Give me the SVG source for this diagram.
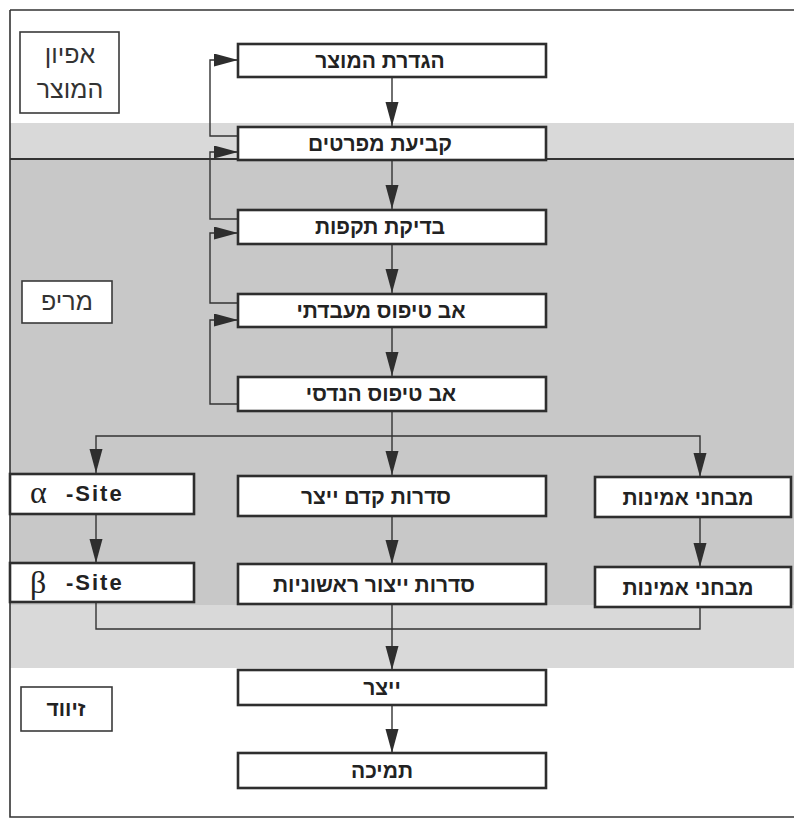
<svg xmlns="http://www.w3.org/2000/svg" width="794" height="821" viewBox="0 0 794 821">
<style>
.box{fill:#fff;stroke:#2e2e2e;stroke-width:2.6}
.lbl{fill:#fff;stroke:#3a3a3a;stroke-width:1.6}
.t{font-family:"Liberation Sans","DejaVu Sans",sans-serif;font-weight:bold;font-size:21px;fill:#222;text-anchor:middle}
.tl{font-family:"Liberation Sans","DejaVu Sans",sans-serif;font-size:25px;fill:#333;text-anchor:middle}
.c{fill:none;stroke:#333;stroke-width:1.4}
.g{font-family:"Liberation Serif",serif;font-size:32px;fill:#222}
.s{font-family:"Liberation Sans",sans-serif;font-weight:bold;font-size:22px;fill:#222;letter-spacing:2px}
</style>
<defs>
<marker id="ah" markerUnits="userSpaceOnUse" markerWidth="26" markerHeight="14" refX="24" refY="6.5" orient="auto">
<path d="M0,0 L24,6.5 L0,13 Z" fill="#2e2e2e"/>
</marker>
</defs>
<rect x="0" y="0" width="794" height="821" fill="#fff"/>
<g id="background">
<rect x="10" y="123" width="784" height="36" fill="#d9d9d9"/>
<rect x="10" y="159" width="784" height="446" fill="#c8c8c8"/>
<rect x="10" y="605" width="784" height="63" fill="#d9d9d9"/>
<path d="M10,10 H794 M10,10 V817 H794" fill="none" stroke="#333" stroke-width="1.6"/>
<path d="M10,159 H794" stroke="#333" stroke-width="1.8"/>
</g>
<g id="connectors">
<path class="c" d="M392,77 V126" marker-end="url(#ah)"/>
<path class="c" d="M392,160 V209" marker-end="url(#ah)"/>
<path class="c" d="M392,244 V293" marker-end="url(#ah)"/>
<path class="c" d="M392,327 V376" marker-end="url(#ah)"/>
<path class="c" d="M392,411 V475" marker-end="url(#ah)"/>
<path class="c" d="M392,516 V564" marker-end="url(#ah)"/>
<path class="c" d="M392,604 V670" marker-end="url(#ah)"/>
<path class="c" d="M392,705 V753" marker-end="url(#ah)"/>
<path class="c" d="M238,136 H210 V60 H238" marker-end="url(#ah)"/>
<path class="c" d="M238,219 H210 V152 H238" marker-end="url(#ah)"/>
<path class="c" d="M238,303 H210 V233 H238" marker-end="url(#ah)"/>
<path class="c" d="M238,404 H210 V320 H238" marker-end="url(#ah)"/>
<path class="c" d="M392,436 H96 V473" marker-end="url(#ah)"/>
<path class="c" d="M392,436 H700 V477" marker-end="url(#ah)"/>
<path class="c" d="M96,514 V563" marker-end="url(#ah)"/>
<path class="c" d="M700,517 V567" marker-end="url(#ah)"/>
<path class="c" d="M96,602 V629 H700 V607"/>
</g>
<g id="n-product-char">
<rect class="lbl" x="20" y="32" width="99" height="81"/>
<text class="tl" x="70" y="63">אפיון</text>
<text class="tl" x="70" y="98">המוצר</text>
</g>
<g id="n-rnd">
<rect class="lbl" x="22" y="281" width="90" height="42"/>
<text class="tl" x="67" y="310">מריפ</text>
</g>
<g id="n-packaging">
<rect class="lbl" x="21" y="687" width="91" height="44"/>
<text class="t" x="66" y="716">זיווד</text>
</g>
<g id="n-define">
<rect class="box" x="238" y="44" width="308" height="33"/>
<text class="t" x="380" y="68">הגדרת המוצר</text>
</g>
<g id="n-spec">
<rect class="box" x="238" y="127" width="308" height="33"/>
<text class="t" x="380" y="151">קביעת מפרטים</text>
</g>
<g id="n-feasibility">
<rect class="box" x="238" y="210" width="308" height="34"/>
<text class="t" x="380" y="234">בדיקת תקפות</text>
</g>
<g id="n-lab-proto">
<rect class="box" x="238" y="294" width="308" height="33"/>
<text class="t" x="381" y="318">אב טיפוס מעבדתי</text>
</g>
<g id="n-eng-proto">
<rect class="box" x="238" y="377" width="308" height="34"/>
<text class="t" x="381" y="401">אב טיפוס הנדסי</text>
</g>
<g id="n-alpha">
<rect class="box" x="10" y="474" width="184" height="40"/>
<text class="g" x="30" y="503">α</text>
<text class="s" x="66" y="501">-Site</text>
</g>
<g id="n-preprod">
<rect class="box" x="238" y="476" width="308" height="40"/>
<text class="t" x="376" y="504">סדרות קדם ייצר</text>
</g>
<g id="n-reliab1">
<rect class="box" x="595" y="477" width="196" height="40"/>
<text class="t" x="688" y="505">מבחני אמינות</text>
</g>
<g id="n-beta">
<rect class="box" x="10" y="563" width="184" height="39"/>
<text class="g" x="30" y="593">β</text>
<text class="s" x="66" y="590">-Site</text>
</g>
<g id="n-initprod">
<rect class="box" x="238" y="564" width="308" height="40"/>
<text class="t" x="374" y="592">סדרות ייצור ראשוניות</text>
</g>
<g id="n-reliab2">
<rect class="box" x="595" y="567" width="196" height="40"/>
<text class="t" x="688" y="595">מבחני אמינות</text>
</g>
<g id="n-production">
<rect class="box" x="238" y="670" width="308" height="35"/>
<text class="t" x="382" y="695">ייצר</text>
</g>
<g id="n-support">
<rect class="box" x="238" y="753" width="308" height="35"/>
<text class="t" x="382" y="778">תמיכה</text>
</g>
</svg>
